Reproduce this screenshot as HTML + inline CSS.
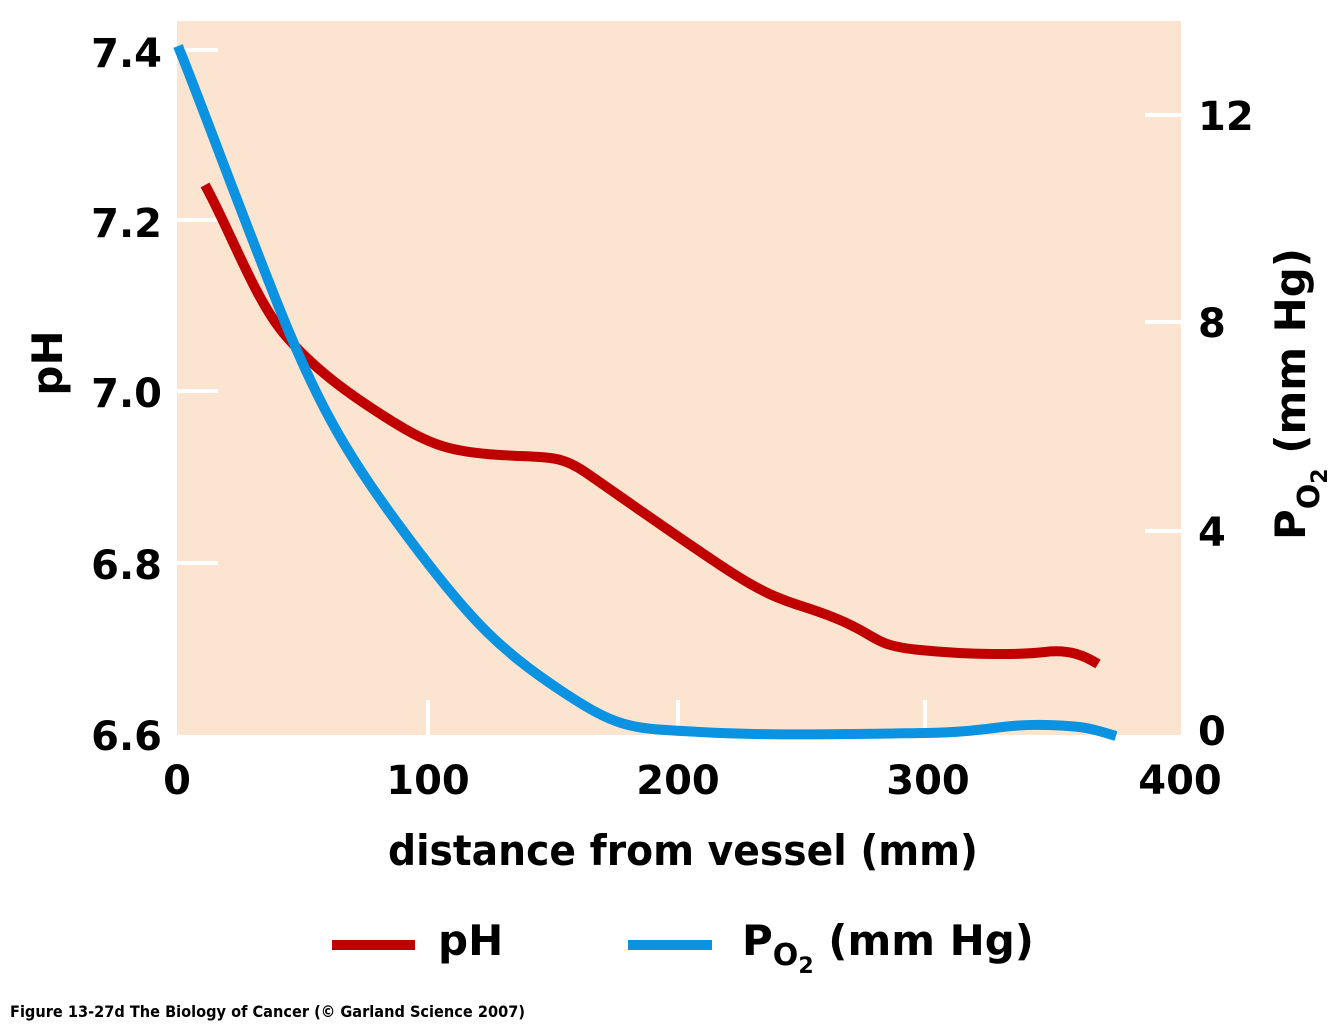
<!DOCTYPE html>
<html><head><style>
body{margin:0;background:#fff;width:1342px;height:1024px;overflow:hidden}
text{font-family:"DejaVu Sans","Liberation Sans",sans-serif;font-weight:bold;fill:#000}
</style></head><body>
<svg width="1342" height="1024" viewBox="0 0 1342 1024">
<rect x="177" y="21" width="1004" height="714" fill="#fce5d0"/>
<g stroke="#fff" stroke-width="4">
<line x1="177" y1="50" x2="218" y2="50"/><line x1="177" y1="220" x2="218" y2="220"/>
<line x1="177" y1="391" x2="218" y2="391"/><line x1="177" y1="563" x2="218" y2="563"/>
<line x1="1145" y1="115" x2="1181" y2="115"/><line x1="1145" y1="322" x2="1181" y2="322"/>
<line x1="1145" y1="531" x2="1181" y2="531"/>
<line x1="428" y1="700" x2="428" y2="735"/><line x1="678" y1="700" x2="678" y2="735"/><line x1="925" y1="700" x2="925" y2="735"/>
</g>
<path d="M205,185 C230,230 255,300 285,335 S350,395 390,420 S450,452 500,455 S560,455 585,472 S660,525 720,565 S790,600 835,618 S870,645 920,650 S1020,655 1045,652 S1085,656 1098,664" fill="none" stroke="#c00000" stroke-width="10"/>
<path d="M178,46 C200,100 240,210 280,310 S350,460 410,540 S500,650 560,690 S630,728 700,732 S860,734 925,733 S1000,724 1045,725 S1095,730 1116,736" fill="none" stroke="#0b92e0" stroke-width="10"/>
<g font-size="40">
<text x="162" y="67" text-anchor="end">7.4</text>
<text x="162" y="237" text-anchor="end">7.2</text>
<text x="162" y="407" text-anchor="end">7.0</text>
<text x="162" y="579" text-anchor="end">6.8</text>
<text x="162" y="750" text-anchor="end">6.6</text>
<text x="1198" y="130">12</text>
<text x="1198" y="337">8</text>
<text x="1198" y="546">4</text>
<text x="1198" y="745">0</text>
<text x="177" y="794" text-anchor="middle">0</text>
<text x="428" y="794" text-anchor="middle">100</text>
<text x="678" y="794" text-anchor="middle">200</text>
<text x="928" y="794" text-anchor="middle">300</text>
<text x="1180" y="794" text-anchor="middle">400</text>
<text x="388" y="865" font-size="42" textLength="590" lengthAdjust="spacingAndGlyphs">distance from vessel (mm)</text>
<text transform="translate(62,363) rotate(-90)" text-anchor="middle" font-size="42">pH</text>
<text transform="translate(1305,540) rotate(-90)" font-size="42">P<tspan font-size="30" dy="14">O</tspan><tspan font-size="22" dy="8">2</tspan><tspan dy="-22"> (mm Hg)</tspan></text>
<text x="438" y="955" font-size="42">pH</text>
<text x="742" y="955" font-size="42">P<tspan font-size="30" dy="10">O</tspan><tspan font-size="22" dy="8">2</tspan><tspan dy="-18"> (mm Hg)</tspan></text>
</g>
<line x1="332" y1="945" x2="415" y2="945" stroke="#c00000" stroke-width="10"/>
<line x1="628" y1="945" x2="712" y2="945" stroke="#0b92e0" stroke-width="10"/>
<text x="10" y="1017" font-size="16" textLength="515" lengthAdjust="spacingAndGlyphs">Figure 13-27d  The Biology of Cancer (© Garland Science 2007)</text>
</svg>
</body></html>
